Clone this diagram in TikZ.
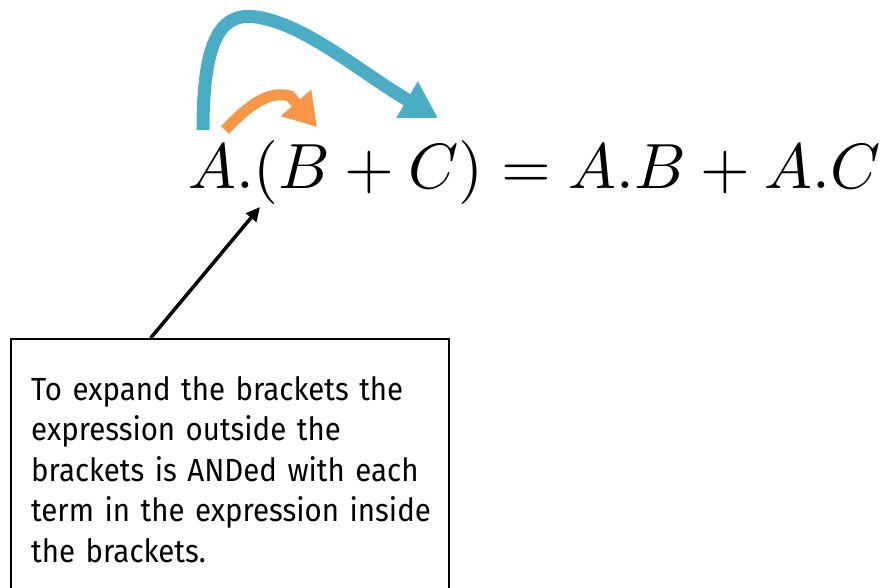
\documentclass[tikz,border=0pt]{standalone}
\usepackage{fontspec}
\usepackage{graphicx}
\newfontfamily\notefont[FakeStretch=0.92,WordSpace=1.35]{Fira Sans}
\usetikzlibrary{arrows.meta,calc}
\definecolor{curveblue}{HTML}{4BACC6}
\definecolor{curveorange}{HTML}{F79646}
\tikzset{
  notebox/.style={draw=black, line width=1.6pt, rectangle, minimum width=438pt, minimum height=280pt, anchor=north west, inner sep=0pt},
  notetext/.style={anchor=north west, align=left, inner sep=0pt, font=\notefont\fontsize{32}{40.5}\selectfont},
  bigcurve/.style={line width=13pt, draw=curveblue, -{Triangle[length=36pt,width=40pt]}, curveblue},
  smallcurve/.style={line width=11pt, draw=curveorange, -{Triangle[length=32pt,width=38pt]}, curveorange},
  pointer/.style={line width=3.5pt, -{Triangle[length=14pt,width=13pt]}}
}
\begin{document}
\begin{tikzpicture}[x=1pt,y=-1pt]
\useasboundingbox (0,0) rectangle (884,587);
\clip (0,0) rectangle (884,587);
\node[anchor=base west, inner sep=0pt] (eq) at (188,188) {\resizebox{692pt}{!}{$A.(B+C)=A.B+A.C$}};
\node[notebox] (box) at (10,338) {};
\node[notetext] (note) at (31,376) {To expand the brackets the\\expression outside the\\brackets is ANDed with each\\term in the expression inside\\the brackets.};
\coordinate (bs) at (203,130);
\coordinate (bt) at (438,118);
\coordinate (os) at (225,130);
\coordinate (ot) at (317,127);
\coordinate (pt) at (260,207);
\draw[bigcurve] (bs) .. controls (203,30) and (225,10) .. (262,18) .. controls (310,28) and (360,72) .. (bt);
\draw[smallcurve] (os) .. controls (248,106) and (268,90) .. (290,96) -- (ot);
\draw[pointer] ($(box.north west)!0.32!(box.north east)$) -- (pt);
\end{tikzpicture}
\end{document}
